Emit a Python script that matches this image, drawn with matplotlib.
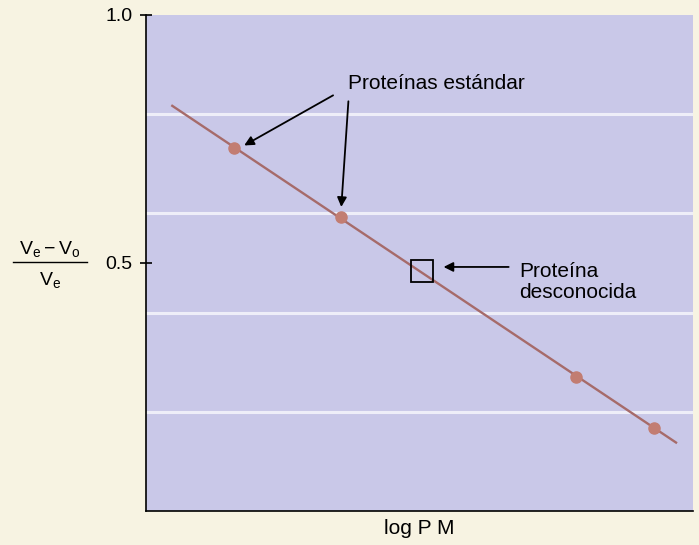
import matplotlib
matplotlib.use("Agg")
import matplotlib.pyplot as plt
import numpy as np
from matplotlib.lines import Line2D

plt.rcParams["font.family"] = ["Liberation Sans", "DejaVu Sans"]
plt.rcParams["mathtext.fontset"] = "custom"
plt.rcParams["mathtext.rm"] = "Liberation Sans"
plt.rcParams["mathtext.it"] = "Liberation Sans"

# standard proteins (log PM in arbitrary units, elution ratio)
std_logpm = [1.61, 3.57, 7.86, 9.29]
std_ratio = [0.731, 0.593, 0.271, 0.168]

# unknown protein
unk_logpm = 5.04
unk_ratio = 0.484

# span of the fitted calibration line
fit_span = [0.48, 9.69]

# faint horizontal bands across the panel
band_levels = [0.2, 0.4, 0.6, 0.8]
y_ticks = [0.5, 1.0]
y_ticklabels = ["0.5", "1.0"]

BG = "#f7f3e2"
PANEL = "#c9c8e8"
LINE = "#a66b6a"
DOT = "#c27d72"

fig = plt.figure(figsize=(6.99, 5.45), dpi=100, facecolor=BG)
ax = fig.add_axes([0.2089, 0.0624, 0.7825, 0.9101])
ax.set_facecolor(PANEL)

for lvl in band_levels:
    ax.axhline(lvl, color="white", lw=2.2, alpha=0.7, zorder=1)

slope, intercept = np.polyfit(std_logpm, std_ratio, 1)
xs = np.array(fit_span)
ax.plot(xs, slope * xs + intercept, color=LINE, lw=1.7, zorder=2)
ax.plot(std_logpm, std_ratio, "o", color=DOT, markersize=8, zorder=3)
ax.plot([unk_logpm], [unk_ratio], "s", markerfacecolor="none",
        markeredgecolor="black", markersize=15.5, markeredgewidth=1.3, zorder=4)

arrow = dict(arrowstyle="-|>", color="black", lw=1.3, mutation_scale=14,
             shrinkA=0, shrinkB=0)
ax.annotate("", xy=(1.795, 0.737), xytext=(3.42, 0.838), arrowprops=arrow)
ax.annotate("", xy=(3.57, 0.613), xytext=(3.70, 0.826), arrowprops=arrow)
ax.text(3.70, 0.862, "Proteínas estándar", fontsize=15, ha="left", va="center")

ax.annotate("", xy=(5.44, 0.492), xytext=(6.63, 0.492), arrowprops=arrow)
ax.text(6.83, 0.462, "Proteína\ndesconocida", fontsize=15, ha="left",
        va="center", linespacing=1.15)

ax.set_xlim(0, 10)
ax.set_ylim(0, 1.0)
ax.set_xticks([])
ax.set_yticks(y_ticks)
ax.set_yticklabels(y_ticklabels, fontsize=14)
ax.tick_params(axis="y", direction="inout", length=8, width=1.2, pad=6)
ax.set_xlabel("log P M", fontsize=15, labelpad=6)

for side in ["top", "right"]:
    ax.spines[side].set_visible(False)
for side in ["left", "bottom"]:
    ax.spines[side].set_linewidth(1.2)

# y-axis label drawn as a stacked fraction
fig.text(50 / 699, 1 - 249 / 545, r"$\mathregular{V_e - V_o}$", fontsize=14,
         ha="center", va="center")
fig.text(50 / 699, 1 - 280 / 545, r"$\mathregular{V_e}$", fontsize=14,
         ha="center", va="center")
fig.add_artist(Line2D([13 / 699, 87 / 699], [1 - 262 / 545, 1 - 262 / 545],
                      color="black", lw=1.0, transform=fig.transFigure))

fig.savefig("out.png", dpi=100, facecolor=BG)
